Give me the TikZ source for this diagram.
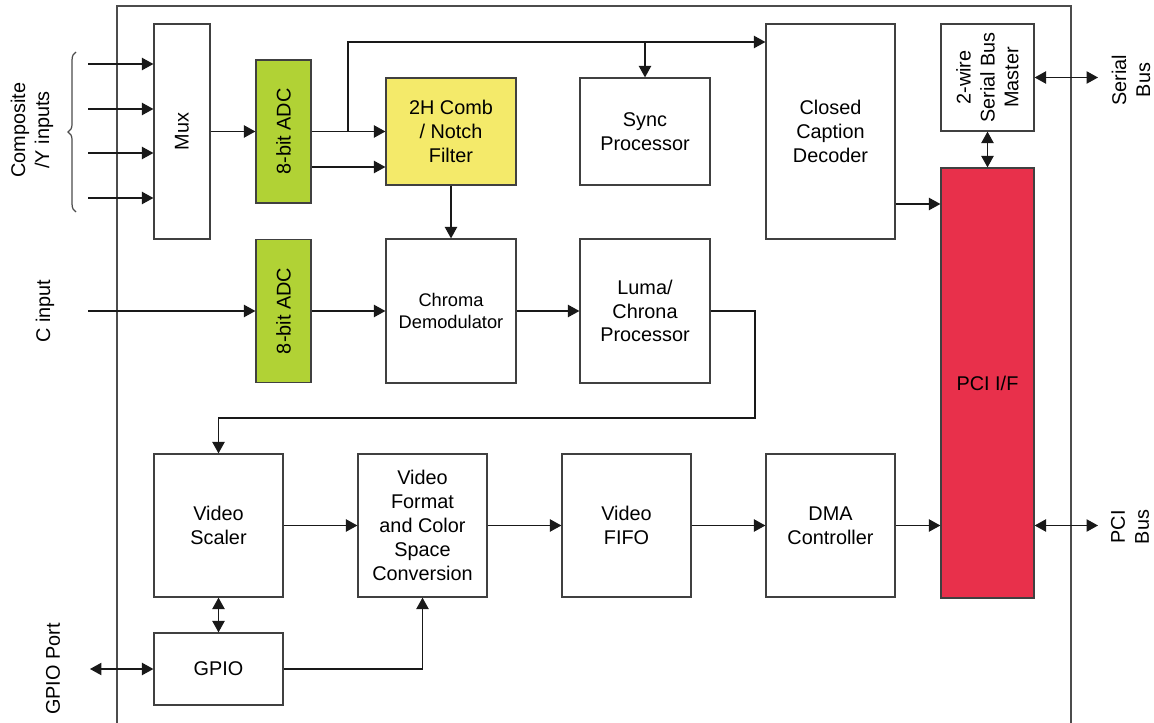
\documentclass[tikz,border=0pt]{standalone}
\usepackage{fontspec}
\setmainfont{Liberation Sans}
\usetikzlibrary{arrows.meta}
\usetikzlibrary{decorations.pathreplacing}

\definecolor{adcgreen}{HTML}{B1D235}
\definecolor{combyellow}{HTML}{F4EA6A}
\definecolor{pcired}{HTML}{E8304B}

\tikzset{
	blk/.style 2 args={draw=black!75, line width=0.7pt, fill=white, align=center, inner sep=0pt,
		minimum width=#1*0.02cm, minimum height=#2*0.02cm},
	arr/.style={-{Triangle[length=6.5pt,width=7pt]}, line width=0.7pt, draw=black!90},
	darr/.style={{Triangle[length=6.5pt,width=7pt]}-{Triangle[length=6.5pt,width=7pt]}, line width=0.7pt, draw=black!90},
}

\begin{document}
\begin{tikzpicture}[x=0.02cm, y=-0.02cm, font=\fontsize{11.3}{13.6}\selectfont]
	\useasboundingbox (0,0) rectangle (1154,723);

	% chip outline
	\draw[black!70, line width=0.7pt] (117,723) -- (117,6) -- (1071,6) -- (1071,723);

	% blocks
	\node[blk={56}{215}] (mux) at (182,131.5) {};
	\node[rotate=90] (muxt) at (mux) {Mux};
	\node[blk={55}{143}, fill=adcgreen] (adc1) at (283.5,131.5) {};
	\node[rotate=90] (adc1t) at (adc1) {8-bit ADC};
	\node[blk={55}{143}, fill=adcgreen] (adc2) at (283.5,311) {};
	\node[rotate=90] (adc2t) at (adc2) {8-bit ADC};
	\node[blk={130}{107}, fill=combyellow] (comb) at (451,131.5) {2H Comb\\/ Notch\\Filter};
	\node[blk={130}{107}] (sync) at (645,131.5) {Sync\\Processor};
	\node[blk={129}{215}] (cc) at (830.5,131.5) {Closed\\Caption\\Decoder};
	\node[blk={93}{107}] (wire2) at (987.5,77.5) {};
	\node[rotate=90, align=center] (wire2t) at (wire2) {2-wire\\Serial Bus\\Master};
	\node[blk={93}{430}, fill=pcired] (pci) at (987.5,383) {PCI I/F};
	\node[blk={130}{144}, font=\fontsize{10.4}{12.3}\selectfont] (chroma) at (451,311) {Chroma\\Demodulator};
	\node[blk={130}{144}] (luma) at (645,311) {Luma/\\Chrona\\Processor};
	\node[blk={129}{143}] (scaler) at (218.5,525.5) {Video\\Scaler};
	\node[blk={129}{143}] (vfcsc) at (422.5,525.5) {Video\\Format\\and Color\\Space\\Conversion};
	\node[blk={129}{143}] (fifo) at (626.5,525.5) {Video\\FIFO};
	\node[blk={129}{143}] (dma) at (830.5,525.5) {DMA\\Controller};
	\node[blk={129}{72}] (gpio) at (218.5,669) {GPIO};

	% outside labels
	\node[rotate=90, align=center] (ylbl) at (32,130) {Composite\\/Y inputs};
	\node[rotate=90] (clbl) at (45,311) {C input};
	\node[rotate=90] (gpiolbl) at (53,669) {GPIO Port};
	\node[rotate=90, align=center] (serlbl) at (1131,80) {Serial\\Bus};
	\node[rotate=90, align=center] (pcilbl) at (1130,527) {PCI\\Bus};

	% free ends
	\coordinate (in1) at (88,64);
	\coordinate (in2) at (88,109);
	\coordinate (in3) at (88,153);
	\coordinate (in4) at (88,198);
	\coordinate (cin) at (88,311);
	\coordinate (gport) at (90,669);
	\coordinate (serbus) at (1098,77.5);
	\coordinate (pcibus) at (1098,525.5);

	\draw[black!70, line width=0.7pt, decorate, decoration={brace, amplitude=4.5pt}] (76,212) -- (76,52);

	% inputs
	\foreach \i in {in1,in2,in3,in4}
		\draw[arr] (\i) -- (mux.west |- \i);
	\draw[arr] (mux) -- (adc1);
	\draw[arr] (adc1.east) -- (comb.west);
	\draw[arr] (adc1.east |- 0,167) -- (comb.west |- 0,167);
	\draw[arr] (348,0 |- adc1.east) |- (cc.west |- 0,42);
	\draw[arr] (sync.north |- 0,42) -- (sync.north);
	\draw[arr] (comb) -- (chroma);
	\draw[arr] (cin) -- (adc2);
	\draw[arr] (adc2) -- (chroma);
	\draw[arr] (chroma) -- (luma);
	\draw[arr] (luma.east) -- (755,0 |- luma.east) |- (scaler.north |- 0,418) -- (scaler.north);

	% bottom row
	\draw[arr] (scaler) -- (vfcsc);
	\draw[arr] (vfcsc) -- (fifo);
	\draw[arr] (fifo) -- (dma);
	\draw[arr] (dma) -- (pci.west |- dma);
	\draw[arr] (cc.east |- 0,204) -- (pci.west |- 0,204);
	\draw[darr] (pci.east |- dma) -- (pcibus);
	\draw[darr] (wire2) -- (pci);
	\draw[darr] (wire2.east) -- (serbus);
	\draw[darr] (scaler) -- (gpio);
	\draw[darr] (gpio) -- (gport);
	\draw[arr] (gpio.east) -| (vfcsc.south);
\end{tikzpicture}
\end{document}
